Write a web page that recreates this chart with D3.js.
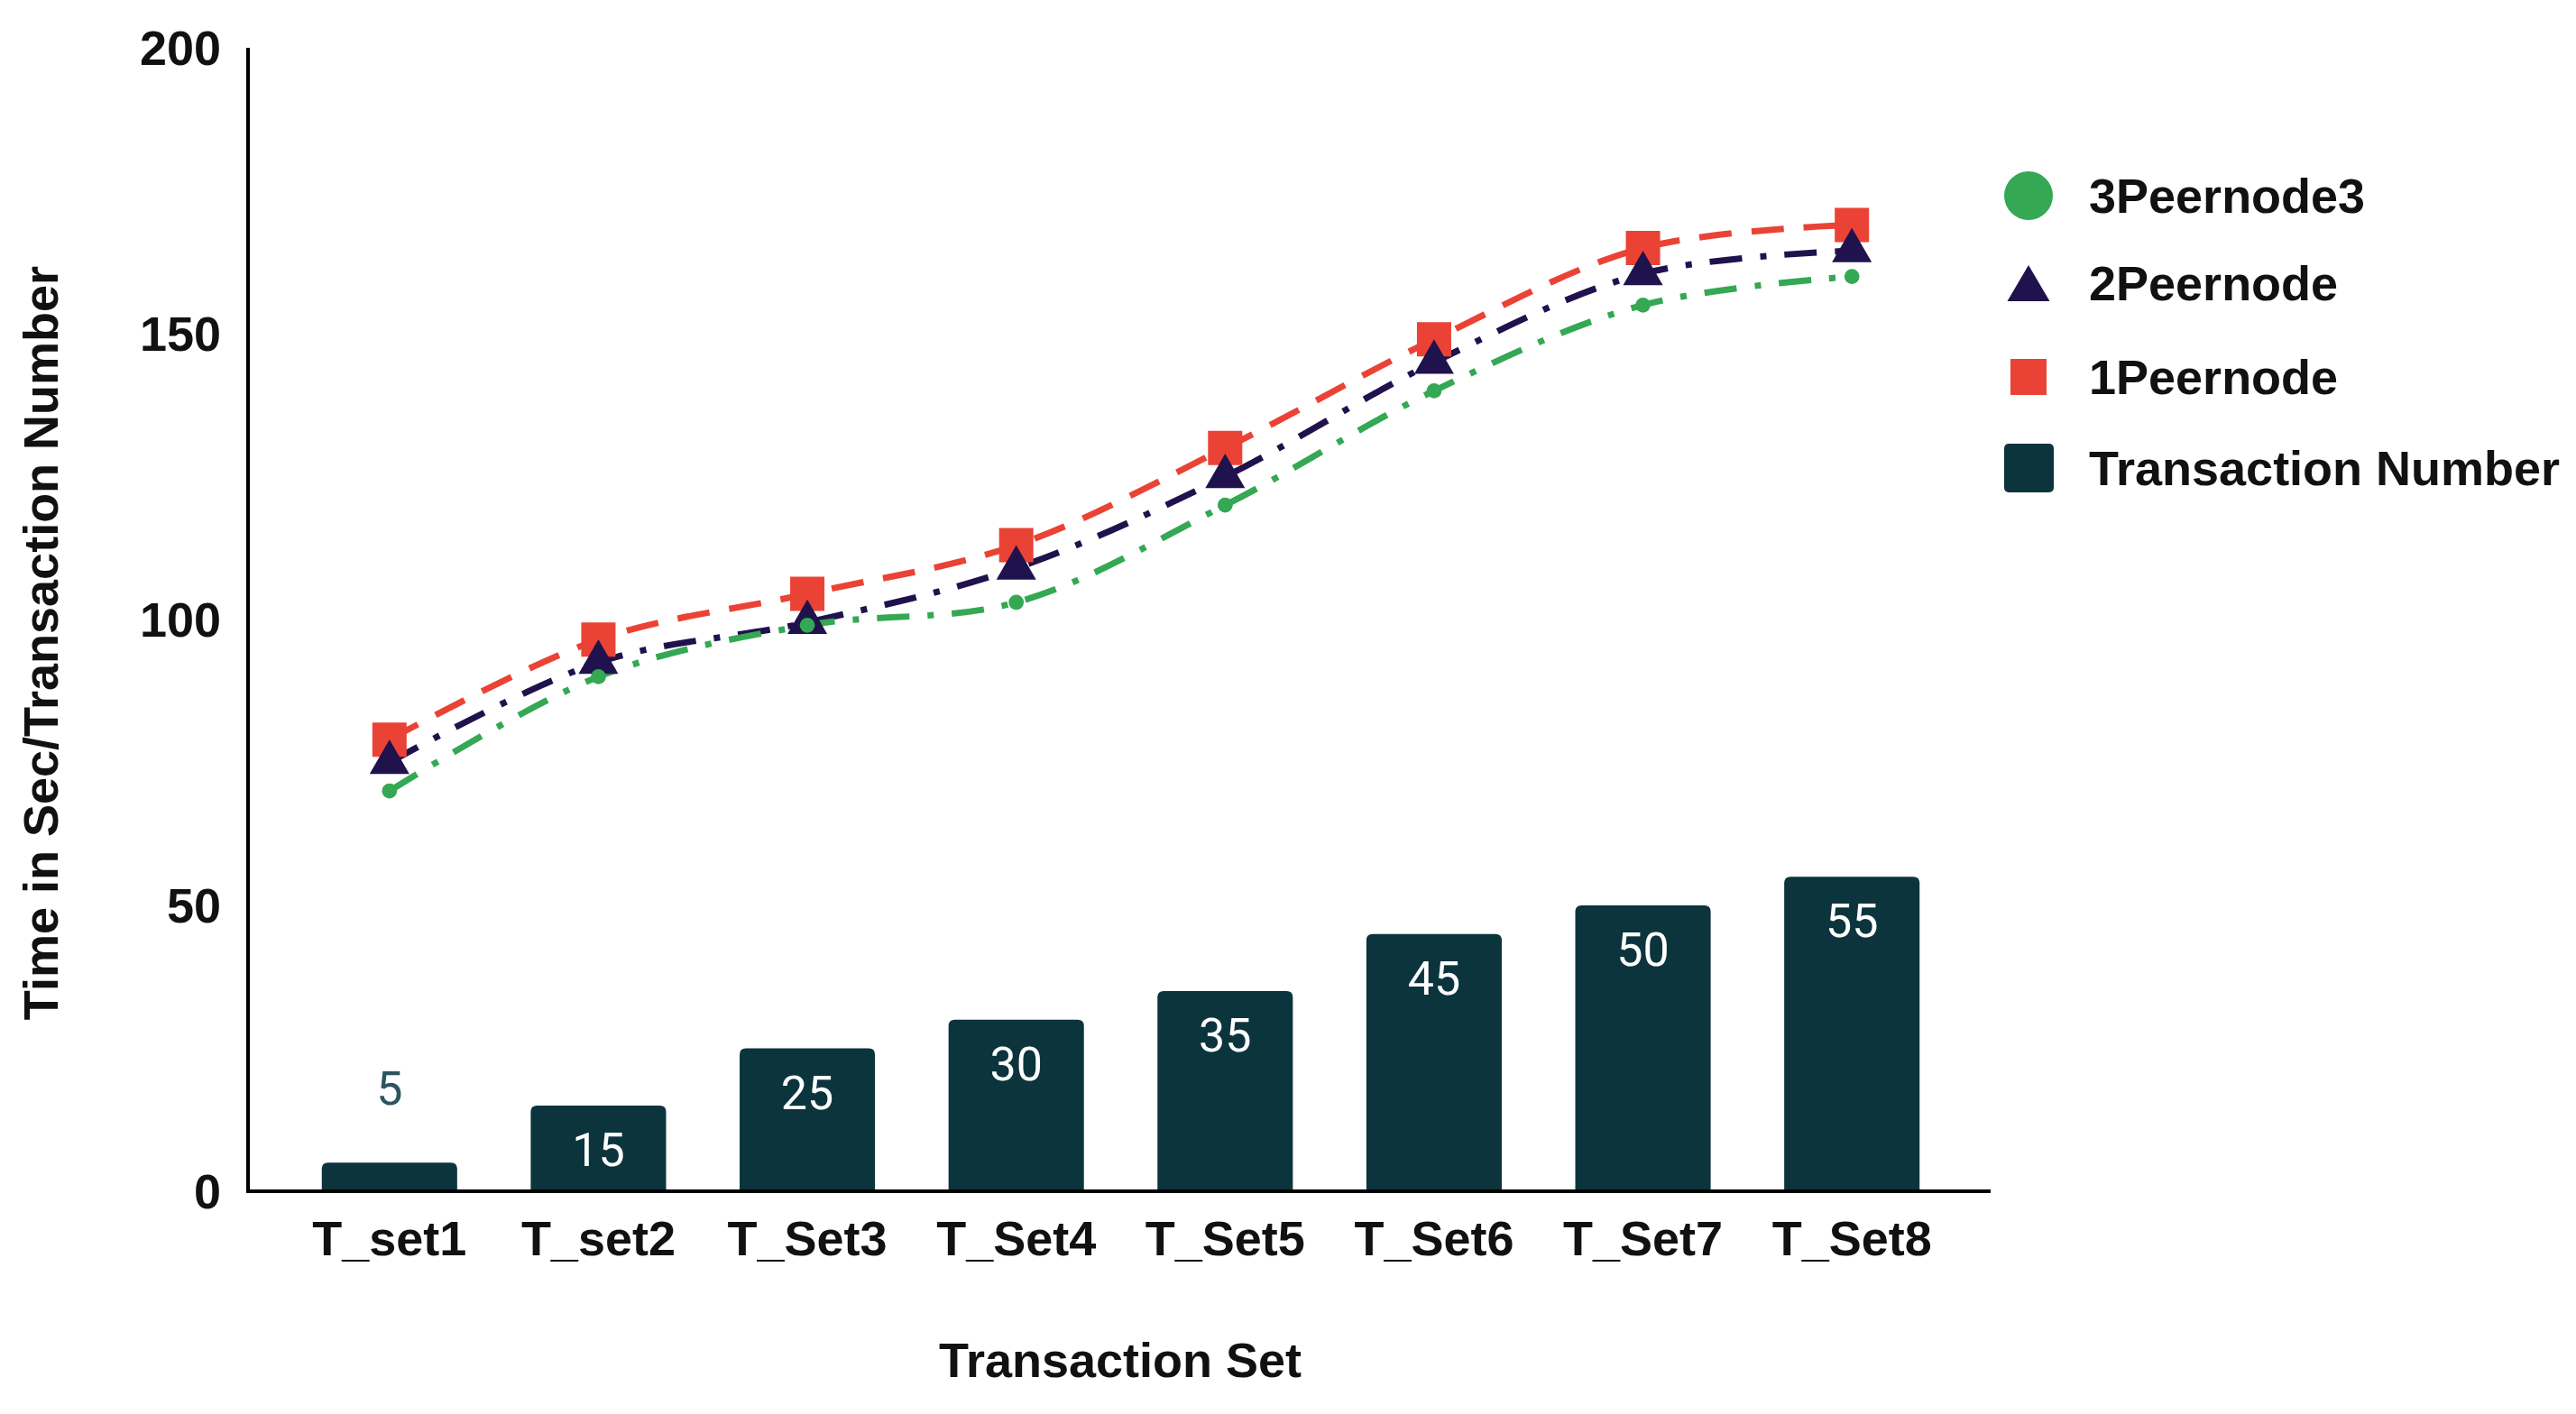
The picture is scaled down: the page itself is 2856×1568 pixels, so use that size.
<!DOCTYPE html>
<meta charset="utf-8">
<script src="https://d3js.org/d3.v7.min.js"></script>
<style>
    body { margin: 0; background: #fff; }
    text { font-family: "Liberation Sans", Arial, sans-serif; }
</style>
<div id="chart"></div>
<script>
    // chart data
    var categories = ["T_set1", "T_set2", "T_Set3", "T_Set4", "T_Set5", "T_Set6", "T_Set7", "T_Set8"];
    var transactionNumber = [5, 15, 25, 30, 35, 45, 50, 55];
    var peer1 = [79, 96.5, 104.5, 113, 130, 149, 165, 169];
    var peer2 = [75, 92.5, 99.5, 109, 125, 145, 160.5, 164.5];
    var peer3 = [70, 90, 99, 103, 120, 140, 155, 160];
    var yTicks = [0, 50, 100, 150, 200];

    var W = 2856, H = 1568;
    var axisX = 275, axisTop = 53, axisBottom = 1321, axisRight = 2207;
    var labelFont = "54px";

    var svg = d3.select("#chart").append("svg")
        .attr("width", W)
        .attr("height", H);

    var x = d3.scaleBand()
        .domain(categories)
        .range([316, 2169])
        .paddingInner(0.352)
        .paddingOuter(0.176);

    var y = d3.scaleLinear()
        .domain([0, 200])
        .range([axisBottom, axisTop]);

    var cx = function (c) { return x(c) + x.bandwidth() / 2; };

    // bars with rounded top corners
    var barData = categories.map(function (c, i) { return { cat: c, value: transactionNumber[i] }; });
    var r = 7;
    svg.append("g").selectAll("path")
        .data(barData)
        .enter()
        .append("path")
        .attr("fill", "#0c343d")
        .attr("d", function (d) {
            var x0 = x(d.cat), x1 = x0 + x.bandwidth(), yt = y(d.value), yb = y(0);
            return "M" + x0 + "," + yb + "V" + (yt + r) + "Q" + x0 + "," + yt + " " + (x0 + r) + "," + yt +
                "H" + (x1 - r) + "Q" + x1 + "," + yt + " " + x1 + "," + (yt + r) + "V" + yb + "Z";
        });

    // bar labels (outside the bar when it is too short)
    svg.append("g").selectAll("text")
        .data(barData)
        .enter()
        .append("text")
        .attr("x", function (d) { return cx(d.cat); })
        .attr("y", function (d) {
            var h = y(0) - y(d.value);
            return h < 80 ? y(d.value) - 64 : y(d.value) + 67;
        })
        .attr("text-anchor", "middle")
        .style("font-family", "Roboto, sans-serif")
        .style("font-size", "52px")
        .attr("fill", function (d) { return (y(0) - y(d.value)) < 80 ? "#2b5560" : "#ffffff"; })
        .text(function (d) { return d.value; });

    // axes
    svg.append("line")
        .attr("x1", axisX).attr("x2", axisX)
        .attr("y1", axisTop).attr("y2", axisBottom + 2)
        .attr("stroke", "#000").attr("stroke-width", 4);
    svg.append("line")
        .attr("x1", axisX).attr("x2", axisRight)
        .attr("y1", axisBottom).attr("y2", axisBottom)
        .attr("stroke", "#000").attr("stroke-width", 4);

    svg.append("g").selectAll("text")
        .data(yTicks)
        .enter()
        .append("text")
        .attr("x", 245)
        .attr("y", function (d) { return y(d) + 19; })
        .attr("text-anchor", "end")
        .style("font-size", labelFont)
        .style("font-weight", "bold")
        .attr("fill", "#111")
        .text(function (d) { return d; });

    svg.append("g").selectAll("text")
        .data(categories)
        .enter()
        .append("text")
        .attr("x", cx)
        .attr("y", 1392)
        .attr("text-anchor", "middle")
        .style("font-size", labelFont)
        .style("font-weight", "bold")
        .attr("fill", "#111")
        .text(function (d) { return d; });

    svg.append("text")
        .attr("transform", "translate(64,713) rotate(-90)")
        .attr("text-anchor", "middle")
        .style("font-size", labelFont)
        .style("font-weight", "bold")
        .attr("fill", "#111")
        .text("Time in Sec/Transaction Number");

    svg.append("text")
        .attr("x", 1242)
        .attr("y", 1527)
        .attr("text-anchor", "middle")
        .style("font-size", labelFont)
        .style("font-weight", "bold")
        .attr("fill", "#111")
        .text("Transaction Set");

    // line series
    var series = [
        { name: "3Peernode3", values: peer3, color: "#34a853", dash: "36,20,7,20", symbol: d3.symbolCircle, size: 220 },
        { name: "2Peernode", values: peer2, color: "#20124d", dash: "36,20,7,20", symbol: d3.symbolTriangle, size: 840 },
        { name: "1Peernode", values: peer1, color: "#ea4335", dash: "36,22", symbol: d3.symbolSquare, size: 1444 }
    ];

    var line = d3.line()
        .x(function (d) { return cx(d.cat); })
        .y(function (d) { return y(d.value); })
        .curve(d3.curveCatmullRom.alpha(0.5));

    var drawOrder = [series[2], series[1], series[0]];
    drawOrder.forEach(function (s) {
        var pts = categories.map(function (c, i) { return { cat: c, value: s.values[i] }; });
        svg.append("path")
            .datum(pts)
            .attr("fill", "none")
            .attr("stroke", s.color)
            .attr("stroke-width", 7)
            .attr("stroke-dasharray", s.dash)
            .attr("d", line);
    });
    drawOrder.forEach(function (s) {
        var pts = categories.map(function (c, i) { return { cat: c, value: s.values[i] }; });
        svg.append("g").selectAll("path")
            .data(pts)
            .enter()
            .append("path")
            .attr("transform", function (d) { return "translate(" + cx(d.cat) + "," + y(d.value) + ")"; })
            .attr("fill", s.color)
            .attr("d", d3.symbol().type(s.symbol).size(s.size));
    });

    // legend
    var legendRows = [
        { name: "3Peernode3", y: 217 },
        { name: "2Peernode", y: 314 },
        { name: "1Peernode", y: 418 },
        { name: "Transaction Number", y: 519 }
    ];
    var legend = svg.append("g");
    var lx = 2249;
    legend.append("circle").attr("cx", lx).attr("cy", 217).attr("r", 27).attr("fill", "#34a853");
    legend.append("path")
        .attr("d", "M" + lx + "," + (314 - 20) + "L" + (lx + 23.5) + "," + (314 + 20) + "L" + (lx - 23.5) + "," + (314 + 20) + "Z")
        .attr("fill", "#20124d");
    legend.append("rect").attr("x", lx - 20).attr("y", 398).attr("width", 40).attr("height", 40).attr("fill", "#ea4335");
    legend.append("rect").attr("x", lx - 27).attr("y", 492).attr("width", 55).attr("height", 54).attr("rx", 5).attr("fill", "#0c343d");
    legend.selectAll("text")
        .data(legendRows)
        .enter()
        .append("text")
        .attr("x", 2316)
        .attr("y", function (d) { return d.y + 19; })
        .style("font-size", labelFont)
        .style("font-weight", "bold")
        .attr("fill", "#111")
        .text(function (d) { return d.name; });
</script>
